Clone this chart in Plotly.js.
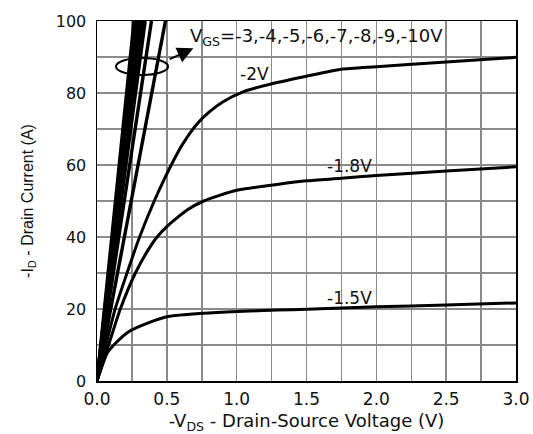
<!DOCTYPE html>
<html><head><meta charset="utf-8">
<script src="https://cdn.plot.ly/plotly-3.0.1.min.js"></script>
<style>html,body{margin:0;padding:0;background:#fff}</style>
</head><body>
<div id="chart" style="width:533px;height:434px"></div>
<script>
// -VGS = -1.5 V
const x15 = [0, 0.072, 0.143, 0.227, 0.358, 0.509, 0.76, 1.008, 1.29, 1.5, 2.0, 2.5, 3.0];
const y15 = [0, 7.7, 10.9, 13.7, 16.0, 17.9, 18.8, 19.3, 19.7, 19.9, 20.6, 21.1, 21.7];
// -VGS = -1.8 V
const x18 = [0, 0.083, 0.167, 0.275, 0.36, 0.43, 0.5, 0.645, 0.764, 1.0, 1.29, 1.5, 1.75, 2.0, 2.5, 3.0];
const y18 = [0, 10, 20, 30, 36, 40, 42.9, 47.5, 50, 53, 54.6, 55.6, 56.3, 57.1, 58.3, 59.5];
// -VGS = -2 V
const x20 = [0, 0.13, 0.215, 0.305, 0.41, 0.487, 0.55, 0.61, 0.716, 0.8, 0.9, 1.05, 1.266, 1.576, 1.75, 2.0, 2.5, 3.0];
const y20 = [0, 20, 30, 40, 50, 56.5, 61.4, 65.6, 71.4, 74.6, 77.5, 80.4, 82.7, 85.3, 86.6, 87.3, 88.6, 89.9];
// -VGS = -3 ... -10 V (linear region): VDS where ID reaches 100 A
const vgsHigh = ['-3V', '-4V', '-5V', '-6V', '-7V', '-8V', '-9V', '-10V'];
const vdsAt100 = [0.49, 0.39, 0.345, 0.325, 0.31, 0.295, 0.28, 0.265];
const idTop = [0, 100];

const xTickVals = [0, 0.5, 1.0, 1.5, 2.0, 2.5, 3.0];
const xTickText = ['0.0', '0.5', '1.0', '1.5', '2.0', '2.5', '3.0'];
const yTickVals = [0, 20, 40, 60, 80, 100];
const yTickText = ['0', '20', '40', '60', '80', '100'];

// ellipse marking the high-VGS bundle, and arrow to its label
const ellipseX = [0.136, 0.509];
const ellipseY = [85, 89.7];
const arrowFrom = [0.51, 89.2];
const arrowTo = [0.69, 92.4];

const curveLabels = [
  {t: '-2V', x: 1.13, y: 85.3},
  {t: '-1.8V', x: 1.81, y: 59.7},
  {t: '-1.5V', x: 1.81, y: 23}
];

const traces = [];
vgsHigh.forEach((n, i) => {
  traces.push({x: [0, vdsAt100[i]], y: idTop, mode: 'lines', line: {color: '#000', width: 3.4}, name: n, hoverinfo: 'skip'});
});
traces.push({x: x20, y: y20, mode: 'lines', line: {color: '#000', width: 3, shape: 'spline', smoothing: 0.6}, name: '-2V'});
traces.push({x: x18, y: y18, mode: 'lines', line: {color: '#000', width: 3, shape: 'spline', smoothing: 0.6}, name: '-1.8V'});
traces.push({x: x15, y: y15, mode: 'lines', line: {color: '#000', width: 3, shape: 'spline', smoothing: 0.5}, name: '-1.5V'});

const fontH = {family: 'DejaVu Sans, sans-serif', size: 17, color: '#111'};

const annotations = curveLabels.map(c => ({
  x: c.x, y: c.y, text: c.t, showarrow: false, font: fontH, xanchor: 'center', yanchor: 'middle'
}));
annotations.push({
  x: 0.652, y: 95.5, xanchor: 'left', yanchor: 'middle', showarrow: false,
  text: 'V<sub>GS</sub>=-3,-4,-5,-6,-7,-8,-9,-10V', font: {family: 'DejaVu Sans, sans-serif', size: 18, color: '#111'}
});
annotations.push({
  x: arrowTo[0], y: arrowTo[1], ax: arrowFrom[0], ay: arrowFrom[1], axref: 'x', ayref: 'y',
  text: '', showarrow: true, arrowhead: 2, arrowsize: 1.6, arrowwidth: 2, arrowcolor: '#000', standoff: 0
});

const layout = {
  width: 533, height: 434,
  margin: {l: 97, r: 17, t: 21, b: 53},
  paper_bgcolor: '#fff', plot_bgcolor: '#fff',
  showlegend: false,
  font: fontH,
  xaxis: {
    range: [0, 3], tickvals: xTickVals, ticktext: xTickText,
    showgrid: true, gridcolor: '#8a8a8a', gridwidth: 1.5,
    minor: {dtick: 0.25, showgrid: true, gridcolor: '#8a8a8a', gridwidth: 1.5},
    showline: true, linecolor: '#000', linewidth: 1.5, mirror: true,
    zeroline: false, ticks: '', ticklabelstandoff: 2,
    tickfont: fontH,
    title: {text: '-V<sub>DS</sub> - Drain-Source Voltage (V)', font: {family: 'DejaVu Sans, sans-serif', size: 18, color: '#111'}, standoff: 8}
  },
  yaxis: {
    range: [0, 100], tickvals: yTickVals, ticktext: yTickText,
    showgrid: true, gridcolor: '#8a8a8a', gridwidth: 1.5,
    minor: {dtick: 10, showgrid: true, gridcolor: '#8a8a8a', gridwidth: 1.5},
    showline: true, linecolor: '#000', linewidth: 1.5, mirror: true,
    zeroline: false, ticks: '', ticklabelstandoff: 6,
    tickfont: {family: 'DejaVu Sans, sans-serif', size: 16, color: '#111'},
    title: {text: '-I<sub>D</sub> - Drain Current (A)', font: {family: 'Liberation Sans, Arial, sans-serif', size: 16, color: '#111'}, standoff: 18}
  },
  shapes: [{
    type: 'circle', xref: 'x', yref: 'y',
    x0: ellipseX[0], x1: ellipseX[1], y0: ellipseY[0], y1: ellipseY[1],
    line: {color: '#000', width: 2}
  }],
  annotations: annotations
};

Plotly.newPlot('chart', traces, layout, {staticPlot: true, displayModeBar: false});
</script>
</body></html>
